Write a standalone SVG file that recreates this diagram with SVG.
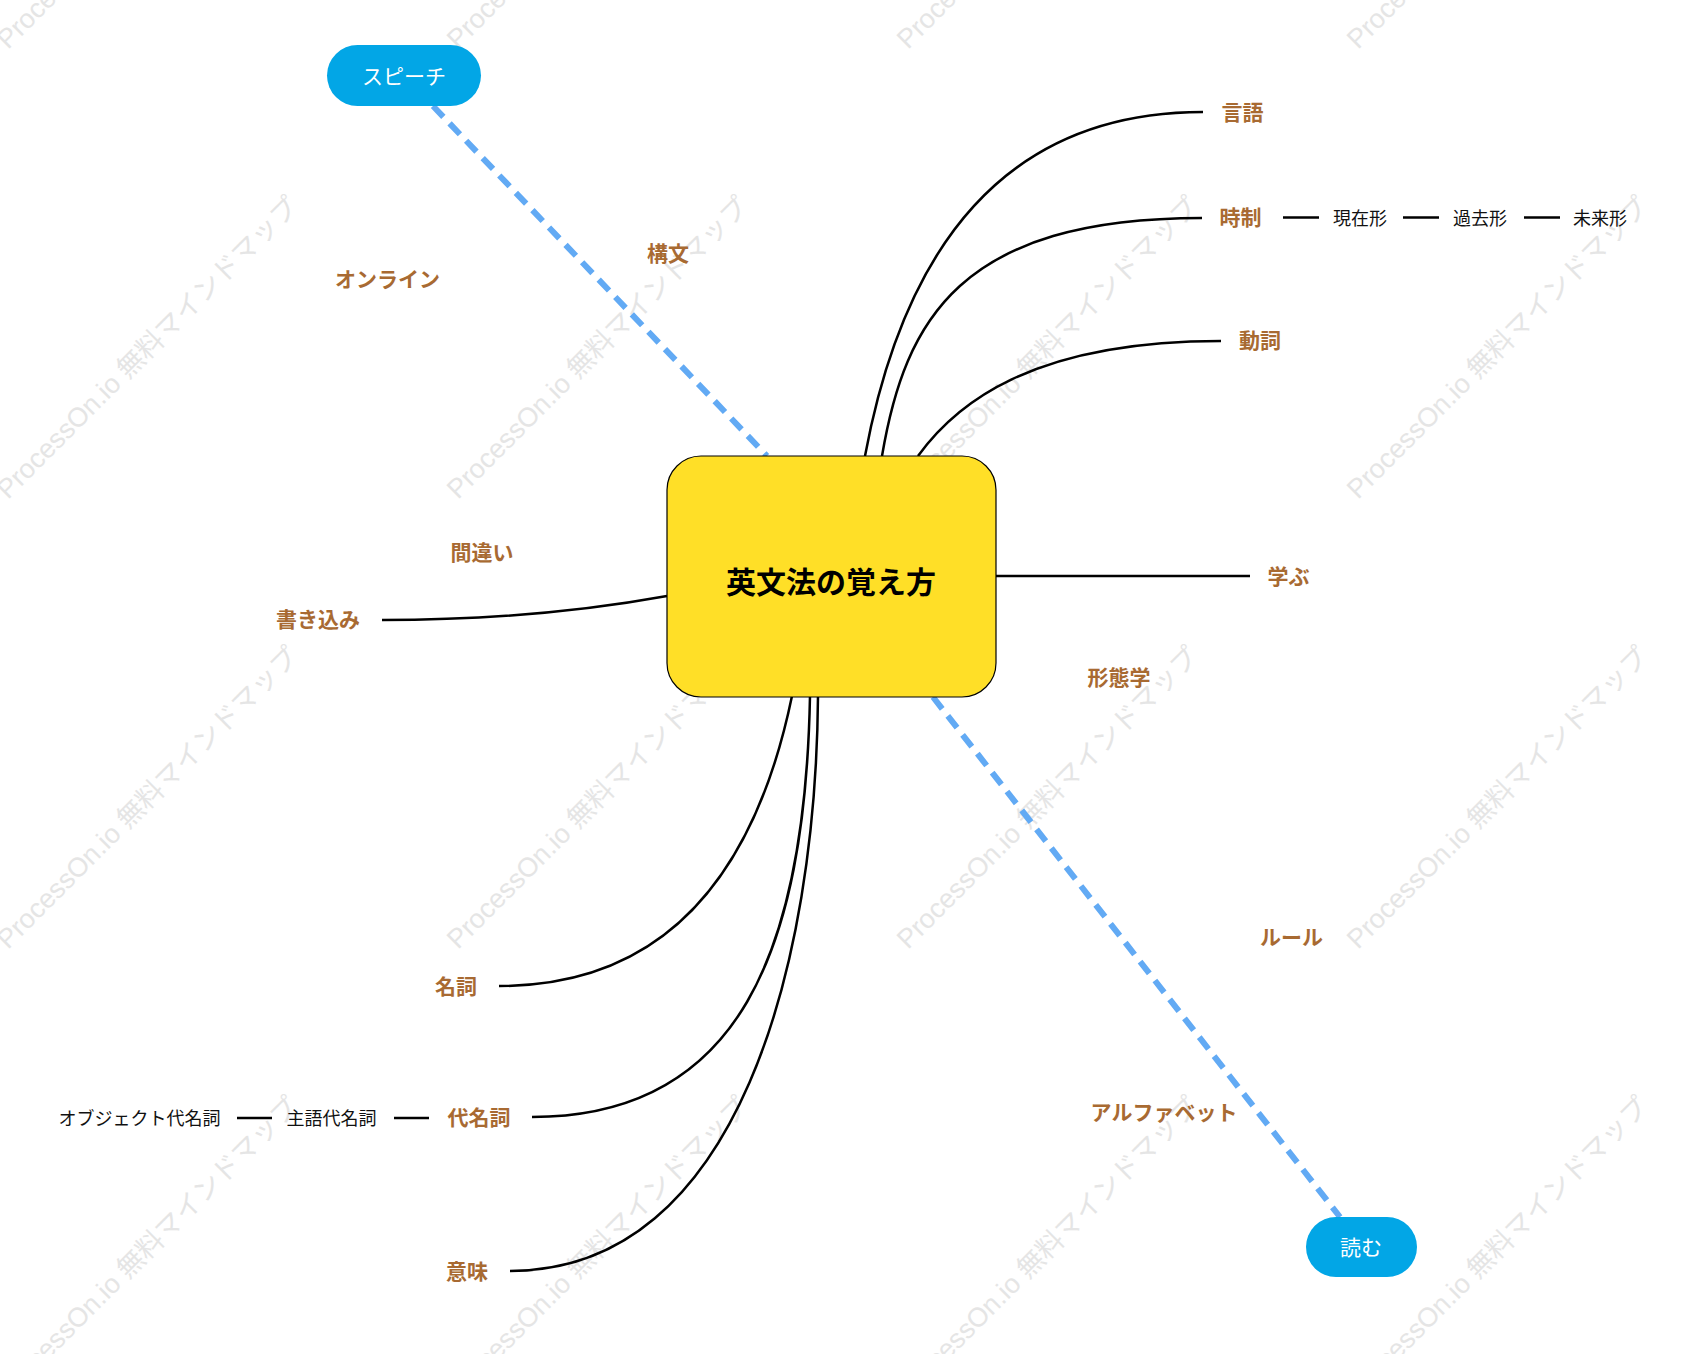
<svg xmlns="http://www.w3.org/2000/svg" width="1690" height="1354" viewBox="0 0 1690 1354">
<style>
.wm{font-family:"Liberation Sans","Noto Sans CJK JP",sans-serif;font-size:27px;fill:#e5e5e5}
.topic{font-family:"Noto Sans CJK JP",sans-serif;font-weight:bold;font-size:21px;fill:#A86A32;text-anchor:middle;dominant-baseline:central}
.sub{font-family:"Noto Sans CJK JP",sans-serif;font-size:18px;fill:#111;text-anchor:middle;dominant-baseline:central}
.white{font-family:"Noto Sans CJK JP",sans-serif;font-size:21px;fill:#fff;text-anchor:middle;dominant-baseline:central}
.title{font-family:"Noto Sans CJK JP",sans-serif;font-weight:bold;font-size:30px;fill:#000;text-anchor:middle;dominant-baseline:central}
.link{fill:none;stroke:#000;stroke-width:2.5}
.dash{fill:none;stroke:#62AAF4;stroke-width:6;stroke-dasharray:15 9}
.blue{fill:#02A6E6}
</style>
<rect width="1690" height="1354" fill="#fff"/>
<g id="watermark">
<text class="wm" transform="translate(8,50) rotate(-45)">ProcessOn.io 無料マインドマップ</text>
<text class="wm" transform="translate(458,50) rotate(-45)">ProcessOn.io 無料マインドマップ</text>
<text class="wm" transform="translate(908,50) rotate(-45)">ProcessOn.io 無料マインドマップ</text>
<text class="wm" transform="translate(1358,50) rotate(-45)">ProcessOn.io 無料マインドマップ</text>
<text class="wm" transform="translate(8,500) rotate(-45)">ProcessOn.io 無料マインドマップ</text>
<text class="wm" transform="translate(458,500) rotate(-45)">ProcessOn.io 無料マインドマップ</text>
<text class="wm" transform="translate(908,500) rotate(-45)">ProcessOn.io 無料マインドマップ</text>
<text class="wm" transform="translate(1358,500) rotate(-45)">ProcessOn.io 無料マインドマップ</text>
<text class="wm" transform="translate(8,950) rotate(-45)">ProcessOn.io 無料マインドマップ</text>
<text class="wm" transform="translate(458,950) rotate(-45)">ProcessOn.io 無料マインドマップ</text>
<text class="wm" transform="translate(908,950) rotate(-45)">ProcessOn.io 無料マインドマップ</text>
<text class="wm" transform="translate(1358,950) rotate(-45)">ProcessOn.io 無料マインドマップ</text>
<text class="wm" transform="translate(8,1400) rotate(-45)">ProcessOn.io 無料マインドマップ</text>
<text class="wm" transform="translate(458,1400) rotate(-45)">ProcessOn.io 無料マインドマップ</text>
<text class="wm" transform="translate(908,1400) rotate(-45)">ProcessOn.io 無料マインドマップ</text>
<text class="wm" transform="translate(1358,1400) rotate(-45)">ProcessOn.io 無料マインドマップ</text>
</g>
<g id="connectors">
<path class="dash" d="M433,106 L767,456"/>
<path class="dash" d="M933,697 L1340,1217"/>
<path class="link" d="M865,456 Q929,112 1203,112"/>
<path class="link" d="M882,456 C905,320 960,218 1202,218"/>
<path class="link" d="M918,456 C955,405 1030,341 1221,341"/>
<path class="link" d="M996,576 L1250,576"/>
<path class="link" d="M667,596 Q535,620 382,620"/>
<path class="link" d="M792,696 Q732,986 499,986"/>
<path class="link" d="M810,696 C805,950 740,1117 532,1117"/>
<path class="link" d="M818,696 C816,960 740,1271 510,1271"/>
<path class="link" d="M1283,217.5 L1319,217.5"/>
<path class="link" d="M1403,217.5 L1439,217.5"/>
<path class="link" d="M1524,217.5 L1560,217.5"/>
<path class="link" d="M394,1118 L429,1118"/>
<path class="link" d="M237,1118 L272,1118"/>
</g>
<g id="center">
<rect x="667" y="456" width="329" height="241" rx="34" fill="#FFDF27" stroke="#000" stroke-width="1.2"/>
<text class="title" x="831" y="580">英文法の覚え方</text>
</g>
<g id="speech">
<rect class="blue" x="327" y="45" width="154" height="61" rx="30.5"/>
<text class="white" x="404" y="75">スピーチ</text>
</g>
<g id="read">
<rect class="blue" x="1306" y="1217" width="111" height="60" rx="30"/>
<text class="white" x="1361" y="1246">読む</text>
</g>
<g id="gengo"><text class="topic" x="1242.5" y="111">言語</text></g>
<g id="jisei"><text class="topic" x="1240.5" y="216">時制</text></g>
<g id="genzaikei"><text class="sub" x="1360" y="217">現在形</text></g>
<g id="kakokei"><text class="sub" x="1480" y="217">過去形</text></g>
<g id="miraikei"><text class="sub" x="1600" y="217">未来形</text></g>
<g id="doushi"><text class="topic" x="1260" y="339">動詞</text></g>
<g id="manabu"><text class="topic" x="1288.5" y="575">学ぶ</text></g>
<g id="keitaigaku"><text class="topic" x="1119" y="676">形態学</text></g>
<g id="rule"><text class="topic" x="1291.5" y="936">ルール</text></g>
<g id="alphabet"><text class="topic" x="1164" y="1111">アルファベット</text></g>
<g id="koubun"><text class="topic" x="668" y="252">構文</text></g>
<g id="online"><text class="topic" x="387.5" y="278">オンライン</text></g>
<g id="machigai"><text class="topic" x="482" y="551">間違い</text></g>
<g id="kakikomi"><text class="topic" x="318" y="618">書き込み</text></g>
<g id="meishi"><text class="topic" x="456" y="985">名詞</text></g>
<g id="daimeishi"><text class="topic" x="479" y="1116">代名詞</text></g>
<g id="shugo"><text class="sub" x="331.5" y="1117">主語代名詞</text></g>
<g id="object"><text class="sub" x="139.5" y="1117">オブジェクト代名詞</text></g>
<g id="imi"><text class="topic" x="467" y="1270">意味</text></g>
</svg>
